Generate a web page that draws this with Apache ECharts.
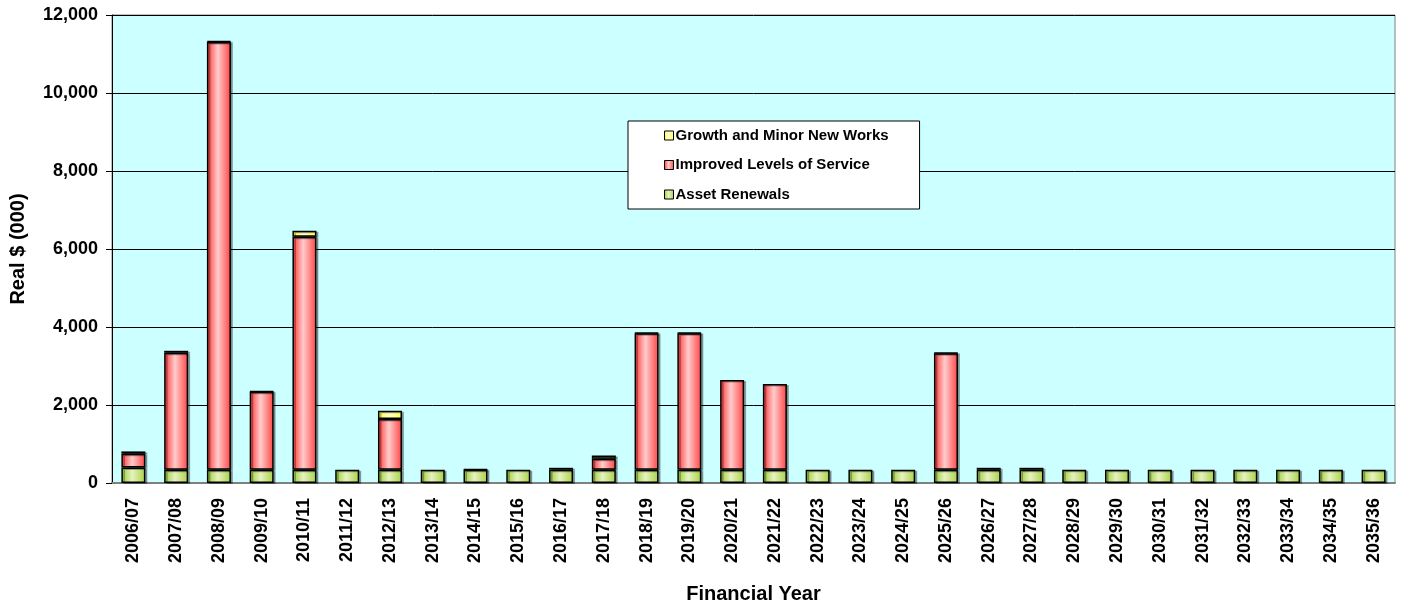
<!DOCTYPE html>
<html>
<head>
<meta charset="utf-8">
<script src="https://cdn.jsdelivr.net/npm/echarts@6/dist/echarts.min.js"></script>
<style>
  html, body { margin: 0; padding: 0; background: #fff; }
  #main { width: 1404px; height: 607px; }
</style>
</head>
<body>
<div id="main"></div>
<script>
// financial years
var years = [
  "2006/07", "2007/08", "2008/09", "2009/10", "2010/11", "2011/12",
  "2012/13", "2013/14", "2014/15", "2015/16", "2016/17", "2017/18",
  "2018/19", "2019/20", "2020/21", "2021/22", "2022/23", "2023/24",
  "2024/25", "2025/26", "2026/27", "2027/28", "2028/29", "2029/30",
  "2030/31", "2031/32", "2032/33", "2033/34", "2034/35", "2035/36"
];
// Real $ (000)
var assetRenewals = [
  400, 340, 340, 340, 340, 340, 340, 340, 340, 340, 340, 340, 340, 340, 340,
  340, 340, 340, 340, 340, 340, 340, 340, 340, 340, 340, 340, 340, 340, 340
];
var improvedService = [
  350, 3000, 10970, 2000, 5975, 0, 1300, 0, 0, 0, 0, 280, 3500, 3500, 2300,
  2200, 0, 0, 0, 2990, 0, 0, 0, 0, 0, 0, 0, 0, 0, 0
];
var growthWorks = [
  60, 50, 15, 10, 155, 0, 210, 0, 10, 0, 50, 85, 15, 15, 0,
  0, 0, 0, 0, 10, 50, 50, 0, 0, 0, 0, 0, 0, 0, 0
];
var yTicks = [0, 2000, 4000, 6000, 8000, 10000, 12000];

var font = "'Liberation Sans', Arial, sans-serif";

// excel style gradient: dark edges, pale middle
function grad(edge, mid, edge2) {
  return new echarts.graphic.LinearGradient(0, 0, 1, 0, [
    { offset: 0, color: edge },
    { offset: 0.45, color: mid },
    { offset: 1, color: edge2 }
  ]);
}

function barSeries(name, data, color) {
  return {
    name: name,
    type: "bar",
    stack: "one",
    barWidth: 24,
    data: data.map(function(v) { return v > 0 ? v : "-"; }),
    itemStyle: {
      color: color,
      borderColor: "#000",
      borderWidth: 1.5,
      shadowColor: "rgba(0,0,0,0.3)",
      shadowOffsetX: 2,
      shadowOffsetY: 1,
      shadowBlur: 0
    },
    emphasis: { disabled: true }
  };
}

var myChart = echarts.init(document.getElementById("main"));

var option = {
  animation: false,
  textStyle: { fontFamily: font },
  grid: {
    left: 112,
    right: 9,
    top: 15,
    bottom: 124,
    outerBoundsMode: "none",
    containLabel: false,
    show: true,
    backgroundColor: "#ccffff",
    borderColor: "#808080",
    borderWidth: 1
  },
  legend: {
    orient: "vertical",
    left: 628,
    top: 121,
    data: ["Growth and Minor New Works", "Improved Levels of Service", "Asset Renewals"],
    backgroundColor: "#fff",
    borderColor: "#000",
    borderWidth: 1,
    padding: [6, 31, 6, 36],
    itemGap: 12.5,
    itemWidth: 9,
    itemHeight: 9,
    icon: "rect",
    itemStyle: { borderColor: "#000", borderWidth: 1 },
    textStyle: {
      fontFamily: font,
      fontSize: 15,
      fontWeight: "bold",
      color: "#000",
      lineHeight: 17,
      padding: [0, 0, 0, -3]
    }
  },
  xAxis: {
    type: "category",
    data: years,
    name: "Financial Year",
    nameLocation: "middle",
    nameGap: 101,
    nameTextStyle: { fontFamily: font, fontSize: 20, fontWeight: "bold", color: "#000" },
    axisLine: { lineStyle: { color: "#808080", width: 2 } },
    axisTick: { show: false },
    axisLabel: {
      interval: 0,
      rotate: 90,
      margin: 15,
      fontFamily: font,
      fontSize: 18,
      fontWeight: "bold",
      color: "#000"
    }
  },
  yAxis: {
    type: "value",
    min: yTicks[0],
    max: yTicks[yTicks.length - 1],
    interval: yTicks[1] - yTicks[0],
    name: "Real $ (000)",
    nameLocation: "middle",
    nameGap: 84,
    nameTextStyle: { fontFamily: font, fontSize: 20, fontWeight: "bold", color: "#000" },
    axisLine: { show: true, lineStyle: { color: "#000", width: 1 } },
    axisTick: { show: true, length: 6, lineStyle: { color: "#000" } },
    splitLine: { show: true, lineStyle: { color: "#000", width: 1 } },
    axisLabel: {
      margin: 14,
      fontFamily: font,
      fontSize: 18,
      fontWeight: "bold",
      color: "#000",
      formatter: function(v) { return v.toLocaleString("en-US"); }
    }
  },
  series: [
    barSeries("Asset Renewals", assetRenewals, grad("#99cc33", "#e6f2bf", "#a9d147")),
    barSeries("Improved Levels of Service", improvedService, grad("#ff3333", "#ffcccc", "#ff4444")),
    barSeries("Growth and Minor New Works", growthWorks, grad("#ffff33", "#ffffcc", "#ffff55"))
  ]
};

myChart.setOption(option);
</script>
</body>
</html>
